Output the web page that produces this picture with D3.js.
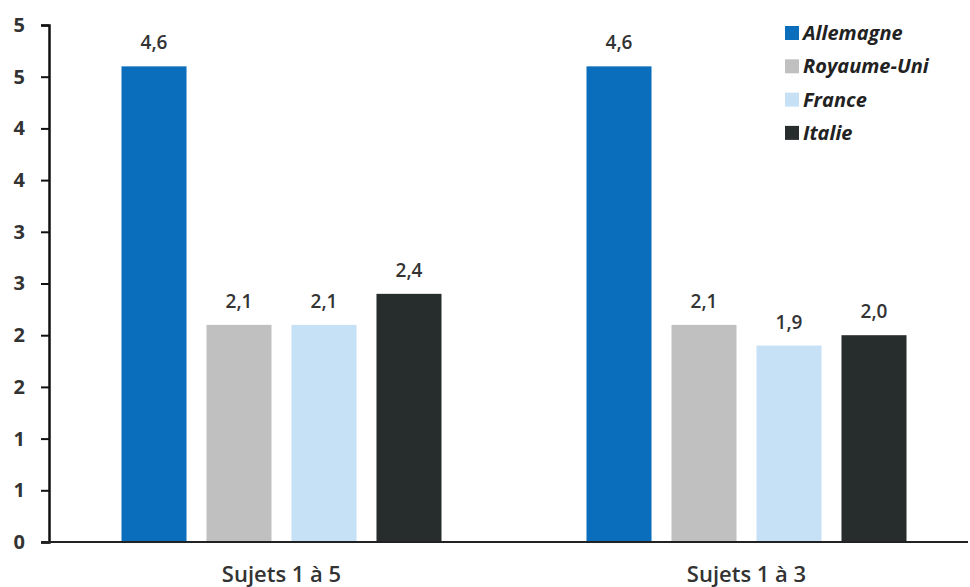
<!DOCTYPE html>
<html>
<head>
<meta charset="utf-8">
<script src="https://cdn.jsdelivr.net/npm/d3@7"></script>
<style>
  body { margin: 0; background: #fff; }
  svg { display: block; font-family: "Open Sans", sans-serif; }
</style>
</head>
<body>
<svg id="chart" width="970" height="587"></svg>
<script>
const categories = ["Sujets 1 à 5", "Sujets 1 à 3"];
const series = ["Allemagne", "Royaume-Uni", "France", "Italie"];
const values = {
  "Allemagne":   [4.6, 4.6],
  "Royaume-Uni": [2.1, 2.1],
  "France":      [2.1, 1.9],
  "Italie":      [2.4, 2.0]
};
const yTicks = [0, 0.5, 1, 1.5, 2, 2.5, 3, 3.5, 4, 4.5, 5];
const colors = ["#0a6ebd", "#c0c0c0", "#c6e0f6", "#272c2c"];

const width = 970, height = 587;
const svg = d3.select("#chart");

// y scale: 0 at baseline, 5 at the top tick
const y = d3.scaleLinear().domain([0, 5]).range([542, 25]);
// x: one band per group of subjects
const x = d3.scaleBand().domain(categories).range([49, 979]);
const xInner = d3.scaleBand().domain(series).range([-160, 160]).paddingInner(0.235);
const color = d3.scaleOrdinal().domain(series).range(colors);

const fr = d3.formatLocale({ decimal: ",", thousands: " ", grouping: [3], currency: ["", " €"] });
const fmt = fr.format(".1f");

const rows = [];
categories.forEach((c, i) => series.forEach(s => rows.push({ cat: c, ser: s, v: values[s][i] })));

// bars
svg.append("g").selectAll("rect")
  .data(rows)
  .enter()
  .append("rect")
  .attr("x", d => x(d.cat) + x.bandwidth() / 2 + xInner(d.ser))
  .attr("y", d => y(d.v))
  .attr("width", xInner.bandwidth())
  .attr("height", d => y(0) - y(d.v))
  .attr("fill", d => color(d.ser));

// value labels
svg.append("g").selectAll("text")
  .data(rows)
  .enter()
  .append("text")
  .attr("x", d => x(d.cat) + x.bandwidth() / 2 + xInner(d.ser) + xInner.bandwidth() / 2)
  .attr("y", d => y(d.v) - 17)
  .attr("text-anchor", "middle")
  .attr("font-size", 19)
  .attr("font-weight", 600)
  .attr("fill", "#333")
  .text(d => fmt(d.v));

// y axis
const yAxis = d3.axisLeft(y)
  .tickValues(yTicks)
  .tickFormat(d => Math.round(d))
  .tickSize(8)
  .tickPadding(16);
const gy = svg.append("g").attr("transform", "translate(49,0)").call(yAxis);
gy.select(".domain").attr("stroke", "#111").attr("stroke-width", 2.5);
gy.selectAll(".tick line").attr("stroke", "#111").attr("stroke-width", 2);
gy.selectAll(".tick text")
  .attr("font-size", 20)
  .attr("font-weight", "bold")
  .attr("fill", "#333")
  .attr("font-family", "'Open Sans', sans-serif");

// baseline
svg.append("line")
  .attr("x1", 41).attr("x2", 968)
  .attr("y1", y(0)).attr("y2", y(0))
  .attr("stroke", "#222").attr("stroke-width", 2);

// category labels
svg.append("g").selectAll("text")
  .data(categories)
  .enter()
  .append("text")
  .attr("x", d => x(d) + x.bandwidth() / 2)
  .attr("y", 582)
  .attr("text-anchor", "middle")
  .attr("font-size", 22)
  .attr("font-weight", 600)
  .attr("fill", "#333")
  .text(d => d);

// legend
const legend = svg.append("g").attr("transform", "translate(785,33)");
const item = legend.selectAll("g")
  .data(series)
  .enter()
  .append("g")
  .attr("transform", (d, i) => "translate(0," + i * 33.3 + ")");
item.append("rect")
  .attr("x", 0).attr("y", -7)
  .attr("width", 14).attr("height", 14)
  .attr("fill", d => color(d));
item.append("text")
  .attr("x", 18).attr("y", 7)
  .attr("font-size", 20)
  .attr("font-weight", "bold")
  .attr("font-style", "italic")
  .attr("fill", "#222")
  .text(d => d);
</script>
</body>
</html>
